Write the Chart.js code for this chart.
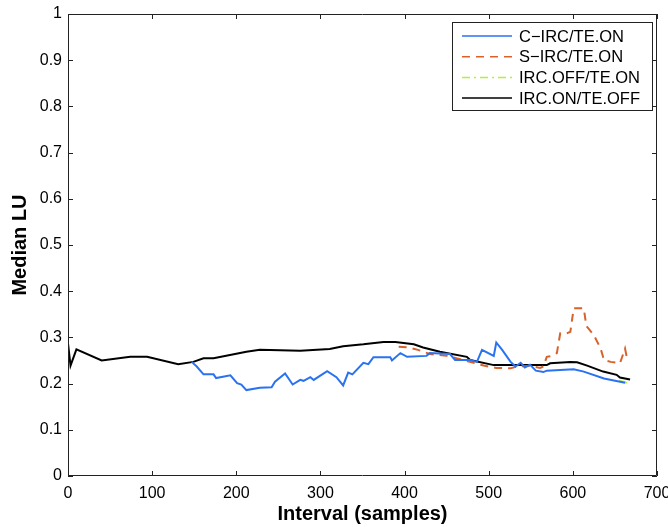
<!DOCTYPE html>
<html>
<head>
<meta charset="utf-8">
<script src="https://cdn.jsdelivr.net/npm/chart.js@4/dist/chart.umd.min.js"></script>
<style>
  html, body { margin: 0; padding: 0; background: #fff; }
  #wrap { width: 668px; height: 527px; }
</style>
</head>
<body>
<div id="wrap"><canvas id="chart" width="668" height="527"></canvas></div>
<script>
// x ticks and y ticks
const xTicks = [0, 100, 200, 300, 400, 500, 600, 700];
const yTicks = [0, 0.1, 0.2, 0.3, 0.4, 0.5, 0.6, 0.7, 0.8, 0.9, 1];

// C-IRC/TE.ON
const blueX = [147, 153, 161, 173, 176, 193, 201, 206, 212, 228, 242, 246, 258, 267, 276, 280, 288, 292, 308, 319, 327, 333, 338, 351, 357, 363, 383, 385, 395, 403, 426, 430, 454, 460, 478, 486, 492, 506, 509, 516, 526, 532, 538, 543, 549, 556, 565, 569, 601, 613, 637, 662];
const blueY = [0.247, 0.237, 0.220, 0.220, 0.212, 0.218, 0.201, 0.198, 0.186, 0.191, 0.192, 0.204, 0.222, 0.198, 0.208, 0.206, 0.214, 0.208, 0.227, 0.214, 0.196, 0.224, 0.220, 0.245, 0.242, 0.257, 0.257, 0.250, 0.266, 0.258, 0.260, 0.266, 0.264, 0.251, 0.251, 0.247, 0.273, 0.260, 0.289, 0.273, 0.247, 0.237, 0.245, 0.235, 0.241, 0.228, 0.225, 0.228, 0.231, 0.226, 0.211, 0.202];

// S-IRC/TE.ON
const orangeX = [393, 405, 416, 430, 450, 470, 494, 509, 526, 533, 549, 561, 565, 569, 575, 581, 585, 593, 597, 601, 613, 616, 625, 633, 637, 645, 656, 662, 664];
const orangeY = [0.280, 0.278, 0.273, 0.264, 0.260, 0.251, 0.239, 0.234, 0.233, 0.237, 0.238, 0.234, 0.237, 0.258, 0.260, 0.266, 0.309, 0.309, 0.312, 0.363, 0.363, 0.325, 0.305, 0.276, 0.251, 0.247, 0.244, 0.276, 0.258];

// IRC.OFF/TE.ON (only the tail shows from under the others)
const greenX = [655, 662, 668];
const greenY = [0.206, 0.203, 0.197];

// IRC.ON/TE.OFF
const blackX = [0, 3, 10, 40, 74, 94, 131, 149, 161, 173, 212, 228, 276, 311, 327, 351, 375, 389, 411, 422, 442, 474, 478, 506, 537, 569, 573, 597, 605, 617, 636, 652, 656, 668];
const blackY = [0.287, 0.239, 0.274, 0.250, 0.258, 0.258, 0.242, 0.247, 0.255, 0.255, 0.269, 0.273, 0.271, 0.275, 0.281, 0.285, 0.290, 0.290, 0.285, 0.278, 0.269, 0.258, 0.251, 0.240, 0.240, 0.240, 0.244, 0.247, 0.246, 0.239, 0.226, 0.219, 0.213, 0.209];

const labels = ['C\u2212IRC/TE.ON', 'S\u2212IRC/TE.ON', 'IRC.OFF/TE.ON', 'IRC.ON/TE.OFF'];
const colors = ['#2a72f0', '#d9622b', '#b5ef3c', '#000000'];
const dashes = [[], [8, 6], [8, 4, 2, 4], []];

function pts(xs, ys) {
    return xs.map((x, i) => ({ x: x, y: ys[i] }));
}

const font = 'Liberation Sans, Arial, Helvetica, sans-serif';

// box, inward ticks and the legend, drawn MATLAB style
const boxPlugin = {
    id: 'boxPlugin',
    afterDraw(chart) {
        const ctx = chart.ctx;
        const a = chart.chartArea;
        const xs = chart.scales.x, ys = chart.scales.y;
        ctx.save();
        ctx.strokeStyle = '#222';
        ctx.lineWidth = 1;
        ctx.beginPath();
        ctx.rect(a.left + 0.5, a.top + 0.5, a.right - a.left - 1, a.bottom - a.top - 1);
        ctx.stroke();
        const t = 5;
        ctx.beginPath();
        xTicks.forEach(v => {
            const px = Math.round(xs.getPixelForValue(v)) + 0.5;
            ctx.moveTo(px, a.bottom); ctx.lineTo(px, a.bottom - t);
            ctx.moveTo(px, a.top); ctx.lineTo(px, a.top + t);
        });
        yTicks.forEach(v => {
            const py = Math.round(ys.getPixelForValue(v)) + 0.5;
            ctx.moveTo(a.left, py); ctx.lineTo(a.left + t, py);
            ctx.moveTo(a.right, py); ctx.lineTo(a.right - t, py);
        });
        ctx.stroke();

        // legend
        const lx = 452, ly = 22, lw = 200, lh = 88;
        ctx.fillStyle = '#fff';
        ctx.fillRect(lx, ly, lw, lh);
        ctx.strokeStyle = '#222';
        ctx.strokeRect(lx + 0.5, ly + 0.5, lw, lh);
        ctx.font = '16.5px ' + font;
        ctx.textBaseline = 'middle';
        chart.data.datasets.forEach((ds, i) => {
            const y = ly + 14 + i * 20.7;
            ctx.strokeStyle = ds.borderColor;
            ctx.lineWidth = 1.5;
            ctx.setLineDash(dashes[i]);
            ctx.beginPath();
            ctx.moveTo(462, y); ctx.lineTo(512, y);
            ctx.stroke();
            ctx.setLineDash([]);
            ctx.fillStyle = '#000';
            ctx.fillText(ds.label, 519, y + 1);
        });
        ctx.restore();
    }
};

new Chart(document.getElementById('chart'), {
    type: 'line',
    data: {
        datasets: [
            { label: labels[0], data: pts(blueX, blueY), borderColor: colors[0], borderWidth: 2 },
            { label: labels[1], data: pts(orangeX, orangeY), borderColor: colors[1], borderWidth: 2, borderDash: dashes[1] },
            { label: labels[2], data: pts(greenX, greenY), borderColor: colors[2], borderWidth: 2, borderDash: dashes[2] },
            { label: labels[3], data: pts(blackX, blackY), borderColor: colors[3], borderWidth: 2 }
        ]
    },
    options: {
        responsive: false,
        animation: false,
        elements: { point: { radius: 0 }, line: { tension: 0 } },
        layout: { padding: { left: 0, right: 11, top: 14, bottom: 0 } },
        plugins: { legend: { display: false }, tooltip: { enabled: false } },
        scales: {
            x: {
                type: 'linear', min: 0, max: 700,
                afterBuildTicks: s => { s.ticks = xTicks.map(v => ({ value: v })); },
                afterFit: s => { s.height = 51; s.paddingLeft = 0; s.paddingRight = 0; },
                grid: { display: false, drawTicks: false },
                border: { display: false },
                ticks: { color: '#000', font: { family: font, size: 16 }, padding: 8, maxRotation: 0 },
                title: { display: true, text: 'Interval (samples)', color: '#000', font: { family: font, size: 20, weight: 'bold' }, padding: { top: 0, bottom: 1 } }
            },
            y: {
                min: 0, max: 1,
                afterBuildTicks: s => { s.ticks = yTicks.map(v => ({ value: v })); },
                afterFit: s => { s.width = 68; s.paddingTop = 0; s.paddingBottom = 0; },
                grid: { display: false, drawTicks: false },
                border: { display: false },
                ticks: { color: '#000', font: { family: font, size: 16 }, padding: 6,
                    callback: v => String(Math.round(v * 10) / 10) },
                title: { display: true, text: 'Median LU', color: '#000', font: { family: font, size: 20, weight: 'bold' }, padding: { top: 8, bottom: 0 } }
            }
        }
    },
    plugins: [boxPlugin]
});
</script>
</body>
</html>
